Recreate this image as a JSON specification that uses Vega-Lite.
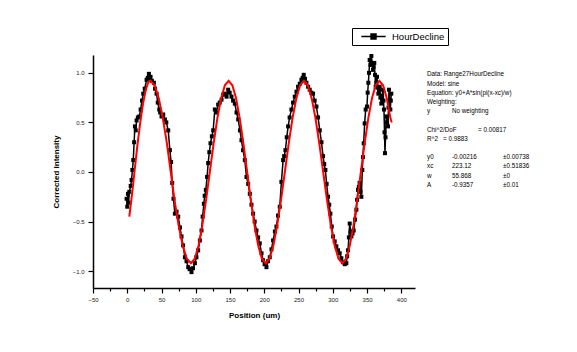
{
  "$schema": "https://vega.github.io/schema/vega-lite/v6.json",
  "width": 322,
  "height": 233,
  "autosize": "none",
  "padding": {"left": 93, "top": 55, "right": 162, "bottom": 64},
  "background": "white",
  "config": {
    "view": {"stroke": null},
    "axis": {
      "grid": false,
      "domainColor": "black",
      "domainWidth": 1.5,
      "tickColor": "black",
      "tickWidth": 1.2,
      "labelFont": "Liberation Sans",
      "labelFontSize": 6,
      "labelColor": "#1a1a1a",
      "titleFont": "Liberation Sans",
      "titleFontSize": 8,
      "titleFontWeight": "bold",
      "titleColor": "black"
    },
    "text": {"font": "Liberation Sans", "fontSize": 6.3, "color": "black"}
  },
  "resolve": {"axis": {"x": "independent"}},
  "datasets": {
    "obs": [
      {"x": -1, "y": -0.27, "series": "HourDecline"},{"x": 0, "y": -0.35, "series": "HourDecline"},{"x": 1, "y": -0.22, "series": "HourDecline"},{"x": 2, "y": -0.31, "series": "HourDecline"},{"x": 3, "y": -0.2, "series": "HourDecline"},{"x": 5, "y": -0.14, "series": "HourDecline"},{"x": 6.3, "y": -0.08, "series": "HourDecline"},{"x": 7.5, "y": 0.02, "series": "HourDecline"},{"x": 8.8, "y": 0.12, "series": "HourDecline"},{"x": 10, "y": 0.3, "series": "HourDecline"},{"x": 11.2, "y": 0.46, "series": "HourDecline"},{"x": 12.4, "y": 0.42, "series": "HourDecline"},{"x": 13.6, "y": 0.52, "series": "HourDecline"},{"x": 15.5, "y": 0.55, "series": "HourDecline"},{"x": 17.5, "y": 0.56, "series": "HourDecline"},{"x": 19.5, "y": 0.63, "series": "HourDecline"},{"x": 21.5, "y": 0.72, "series": "HourDecline"},{"x": 23.3, "y": 0.79, "series": "HourDecline"},{"x": 25.5, "y": 0.84, "series": "HourDecline"},{"x": 28.2, "y": 0.93, "series": "HourDecline"},{"x": 30, "y": 0.95, "series": "HourDecline"},{"x": 31.6, "y": 0.99, "series": "HourDecline"},{"x": 33, "y": 0.94, "series": "HourDecline"},{"x": 34, "y": 0.96, "series": "HourDecline"},{"x": 36, "y": 0.92, "series": "HourDecline"},{"x": 38.9, "y": 0.9, "series": "HourDecline"},{"x": 40.5, "y": 0.84, "series": "HourDecline"},{"x": 42.8, "y": 0.79, "series": "HourDecline"},{"x": 44.5, "y": 0.7, "series": "HourDecline"},{"x": 46.7, "y": 0.63, "series": "HourDecline"},{"x": 48, "y": 0.6, "series": "HourDecline"},{"x": 50, "y": 0.56, "series": "HourDecline"},{"x": 52.5, "y": 0.58, "series": "HourDecline"},{"x": 54.9, "y": 0.53, "series": "HourDecline"},{"x": 57, "y": 0.5, "series": "HourDecline"},{"x": 59.8, "y": 0.42, "series": "HourDecline"},{"x": 62.2, "y": 0.22, "series": "HourDecline"},{"x": 64, "y": 0.1, "series": "HourDecline"},{"x": 65.6, "y": -0.11, "series": "HourDecline"},{"x": 67.5, "y": -0.27, "series": "HourDecline"},{"x": 69.5, "y": -0.42, "series": "HourDecline"},{"x": 72, "y": -0.4, "series": "HourDecline"},{"x": 74.4, "y": -0.45, "series": "HourDecline"},{"x": 77, "y": -0.56, "series": "HourDecline"},{"x": 79.2, "y": -0.65, "series": "HourDecline"},{"x": 81.5, "y": -0.74, "series": "HourDecline"},{"x": 84.1, "y": -0.86, "series": "HourDecline"},{"x": 86.5, "y": -0.9, "series": "HourDecline"},{"x": 89, "y": -0.96, "series": "HourDecline"},{"x": 91, "y": -0.98, "series": "HourDecline"},{"x": 93.8, "y": -1.01, "series": "HourDecline"},{"x": 96, "y": -0.97, "series": "HourDecline"},{"x": 98.7, "y": -0.92, "series": "HourDecline"},{"x": 101, "y": -0.86, "series": "HourDecline"},{"x": 103.5, "y": -0.79, "series": "HourDecline"},{"x": 106, "y": -0.69, "series": "HourDecline"},{"x": 108.4, "y": -0.59, "series": "HourDecline"},{"x": 110, "y": -0.45, "series": "HourDecline"},{"x": 111.8, "y": -0.32, "series": "HourDecline"},{"x": 113, "y": -0.24, "series": "HourDecline"},{"x": 114.7, "y": -0.18, "series": "HourDecline"},{"x": 116.5, "y": -0.05, "series": "HourDecline"},{"x": 118.1, "y": 0.09, "series": "HourDecline"},{"x": 119.8, "y": 0.2, "series": "HourDecline"},{"x": 121.5, "y": 0.29, "series": "HourDecline"},{"x": 123.5, "y": 0.36, "series": "HourDecline"},{"x": 125.4, "y": 0.42, "series": "HourDecline"},{"x": 127.8, "y": 0.63, "series": "HourDecline"},{"x": 130, "y": 0.6, "series": "HourDecline"},{"x": 132.7, "y": 0.68, "series": "HourDecline"},{"x": 135, "y": 0.7, "series": "HourDecline"},{"x": 137.6, "y": 0.73, "series": "HourDecline"},{"x": 140, "y": 0.78, "series": "HourDecline"},{"x": 142.4, "y": 0.79, "series": "HourDecline"},{"x": 145, "y": 0.76, "series": "HourDecline"},{"x": 147.3, "y": 0.83, "series": "HourDecline"},{"x": 149.5, "y": 0.8, "series": "HourDecline"},{"x": 152.1, "y": 0.76, "series": "HourDecline"},{"x": 154.5, "y": 0.72, "series": "HourDecline"},{"x": 157, "y": 0.69, "series": "HourDecline"},{"x": 159.5, "y": 0.6, "series": "HourDecline"},{"x": 161.9, "y": 0.53, "series": "HourDecline"},{"x": 164.5, "y": 0.42, "series": "HourDecline"},{"x": 166.7, "y": 0.32, "series": "HourDecline"},{"x": 169, "y": 0.22, "series": "HourDecline"},{"x": 171.6, "y": 0.12, "series": "HourDecline"},{"x": 174, "y": -0.05, "series": "HourDecline"},{"x": 176.5, "y": -0.12, "series": "HourDecline"},{"x": 178.9, "y": -0.22, "series": "HourDecline"},{"x": 181.3, "y": -0.33, "series": "HourDecline"},{"x": 183.7, "y": -0.42, "series": "HourDecline"},{"x": 186, "y": -0.5, "series": "HourDecline"},{"x": 188.6, "y": -0.59, "series": "HourDecline"},{"x": 191, "y": -0.66, "series": "HourDecline"},{"x": 193.4, "y": -0.72, "series": "HourDecline"},{"x": 196, "y": -0.82, "series": "HourDecline"},{"x": 198.3, "y": -0.89, "series": "HourDecline"},{"x": 200.5, "y": -0.93, "series": "HourDecline"},{"x": 203.2, "y": -0.96, "series": "HourDecline"},{"x": 205.5, "y": -0.9, "series": "HourDecline"},{"x": 208, "y": -0.86, "series": "HourDecline"},{"x": 210.5, "y": -0.78, "series": "HourDecline"},{"x": 212.9, "y": -0.69, "series": "HourDecline"},{"x": 215.5, "y": -0.6, "series": "HourDecline"},{"x": 217.7, "y": -0.55, "series": "HourDecline"},{"x": 220, "y": -0.44, "series": "HourDecline"},{"x": 222.6, "y": -0.35, "series": "HourDecline"},{"x": 225, "y": -0.1, "series": "HourDecline"},{"x": 227.5, "y": 0.12, "series": "HourDecline"},{"x": 229, "y": 0.16, "series": "HourDecline"},{"x": 230.9, "y": 0.22, "series": "HourDecline"},{"x": 232.8, "y": 0.35, "series": "HourDecline"},{"x": 234.8, "y": 0.46, "series": "HourDecline"},{"x": 237, "y": 0.55, "series": "HourDecline"},{"x": 239.6, "y": 0.63, "series": "HourDecline"},{"x": 242, "y": 0.7, "series": "HourDecline"},{"x": 244.5, "y": 0.76, "series": "HourDecline"},{"x": 247, "y": 0.81, "series": "HourDecline"},{"x": 249.3, "y": 0.86, "series": "HourDecline"},{"x": 251.8, "y": 0.89, "series": "HourDecline"},{"x": 254.2, "y": 0.93, "series": "HourDecline"},{"x": 256, "y": 0.95, "series": "HourDecline"},{"x": 257.6, "y": 0.98, "series": "HourDecline"},{"x": 259.5, "y": 0.94, "series": "HourDecline"},{"x": 261.5, "y": 0.9, "series": "HourDecline"},{"x": 264, "y": 0.86, "series": "HourDecline"},{"x": 266.3, "y": 0.83, "series": "HourDecline"},{"x": 268.7, "y": 0.8, "series": "HourDecline"},{"x": 271.2, "y": 0.79, "series": "HourDecline"},{"x": 273.5, "y": 0.72, "series": "HourDecline"},{"x": 276.1, "y": 0.66, "series": "HourDecline"},{"x": 278.5, "y": 0.55, "series": "HourDecline"},{"x": 281, "y": 0.42, "series": "HourDecline"},{"x": 283.5, "y": 0.3, "series": "HourDecline"},{"x": 285.8, "y": 0.16, "series": "HourDecline"},{"x": 287.5, "y": 0.08, "series": "HourDecline"},{"x": 289.2, "y": 0.02, "series": "HourDecline"},{"x": 291, "y": -0.12, "series": "HourDecline"},{"x": 293.1, "y": -0.25, "series": "HourDecline"},{"x": 294.8, "y": -0.33, "series": "HourDecline"},{"x": 296.5, "y": -0.42, "series": "HourDecline"},{"x": 298.5, "y": -0.55, "series": "HourDecline"},{"x": 300.4, "y": -0.65, "series": "HourDecline"},{"x": 302.8, "y": -0.7, "series": "HourDecline"},{"x": 305.2, "y": -0.75, "series": "HourDecline"},{"x": 307.7, "y": -0.79, "series": "HourDecline"},{"x": 310.1, "y": -0.82, "series": "HourDecline"},{"x": 312.5, "y": -0.87, "series": "HourDecline"},{"x": 315, "y": -0.91, "series": "HourDecline"},{"x": 317.5, "y": -0.93, "series": "HourDecline"},{"x": 319.8, "y": -0.92, "series": "HourDecline"},{"x": 321, "y": -0.85, "series": "HourDecline"},{"x": 322.2, "y": -0.79, "series": "HourDecline"},{"x": 323.5, "y": -0.66, "series": "HourDecline"},{"x": 324.7, "y": -0.52, "series": "HourDecline"},{"x": 326, "y": -0.6, "series": "HourDecline"},{"x": 327.1, "y": -0.65, "series": "HourDecline"},{"x": 328.8, "y": -0.62, "series": "HourDecline"},{"x": 330.5, "y": -0.59, "series": "HourDecline"},{"x": 332.5, "y": -0.48, "series": "HourDecline"},{"x": 334.4, "y": -0.38, "series": "HourDecline"},{"x": 335.5, "y": -0.28, "series": "HourDecline"},{"x": 336.8, "y": -0.18, "series": "HourDecline"},{"x": 338, "y": -0.15, "series": "HourDecline"},{"x": 339.2, "y": -0.11, "series": "HourDecline"},{"x": 340.5, "y": -0.2, "series": "HourDecline"},{"x": 341.7, "y": -0.25, "series": "HourDecline"},{"x": 343.1, "y": 0.02, "series": "HourDecline"},{"x": 344, "y": 0.15, "series": "HourDecline"},{"x": 345.1, "y": 0.29, "series": "HourDecline"},{"x": 346.5, "y": 0.49, "series": "HourDecline"},{"x": 348, "y": 0.63, "series": "HourDecline"},{"x": 349.9, "y": 0.66, "series": "HourDecline"},{"x": 350.9, "y": 0.8, "series": "HourDecline"},{"x": 351.9, "y": 0.9, "series": "HourDecline"},{"x": 352.9, "y": 1.0, "series": "HourDecline"},{"x": 353.8, "y": 1.13, "series": "HourDecline"},{"x": 355, "y": 1.08, "series": "HourDecline"},{"x": 356.3, "y": 1.17, "series": "HourDecline"},{"x": 357.5, "y": 1.1, "series": "HourDecline"},{"x": 358.7, "y": 1.03, "series": "HourDecline"},{"x": 359.6, "y": 1.06, "series": "HourDecline"},{"x": 360.6, "y": 1.1, "series": "HourDecline"},{"x": 361.6, "y": 0.98, "series": "HourDecline"},{"x": 362.6, "y": 0.86, "series": "HourDecline"},{"x": 363.5, "y": 0.9, "series": "HourDecline"},{"x": 364.5, "y": 0.96, "series": "HourDecline"},{"x": 365.5, "y": 0.85, "series": "HourDecline"},{"x": 366.5, "y": 0.79, "series": "HourDecline"},{"x": 367.5, "y": 0.82, "series": "HourDecline"},{"x": 368.4, "y": 0.86, "series": "HourDecline"},{"x": 369.5, "y": 0.75, "series": "HourDecline"},{"x": 370.8, "y": 0.69, "series": "HourDecline"},{"x": 372, "y": 0.77, "series": "HourDecline"},{"x": 373.3, "y": 0.83, "series": "HourDecline"},{"x": 374, "y": 0.72, "series": "HourDecline"},{"x": 374.7, "y": 0.63, "series": "HourDecline"},{"x": 375.5, "y": 0.4, "series": "HourDecline"},{"x": 376.2, "y": 0.19, "series": "HourDecline"},{"x": 377, "y": 0.35, "series": "HourDecline"},{"x": 378.1, "y": 0.56, "series": "HourDecline"},{"x": 379.3, "y": 0.5, "series": "HourDecline"},{"x": 380.6, "y": 0.46, "series": "HourDecline"},{"x": 381.3, "y": 0.65, "series": "HourDecline"},{"x": 382, "y": 0.83, "series": "HourDecline"},{"x": 383, "y": 0.72, "series": "HourDecline"},{"x": 384, "y": 0.63, "series": "HourDecline"},{"x": 384.7, "y": 0.72, "series": "HourDecline"},{"x": 385.4, "y": 0.79, "series": "HourDecline"}
    ],
    "fit": [
      {"x": 3, "y": -0.45},{"x": 7, "y": -0.22},{"x": 10.5, "y": 0.0},{"x": 15, "y": 0.28},{"x": 19, "y": 0.5},{"x": 23, "y": 0.69},{"x": 27, "y": 0.83},{"x": 31, "y": 0.91},{"x": 34, "y": 0.92},
      {"x": 40, "y": 0.875},{"x": 46, "y": 0.744},{"x": 52, "y": 0.541},{"x": 58, "y": 0.284},{"x": 63.5, "y": 0},{"x": 69, "y": -0.284},{"x": 75, "y": -0.541},{"x": 81, "y": -0.744},{"x": 87, "y": -0.875},{"x": 93, "y": -0.92},
      {"x": 98.5, "y": -0.875},{"x": 104, "y": -0.744},{"x": 109.5, "y": -0.541},{"x": 115, "y": -0.284},{"x": 120.5, "y": 0},{"x": 126, "y": 0.284},{"x": 131.5, "y": 0.541},{"x": 137, "y": 0.744},{"x": 142.5, "y": 0.875},{"x": 148, "y": 0.92},
      {"x": 153.4, "y": 0.875},{"x": 158.8, "y": 0.744},{"x": 164.2, "y": 0.541},{"x": 169.6, "y": 0.284},{"x": 175, "y": 0},{"x": 180.4, "y": -0.284},{"x": 185.8, "y": -0.541},{"x": 191.2, "y": -0.744},{"x": 196.6, "y": -0.875},{"x": 202, "y": -0.92},
      {"x": 207.6, "y": -0.875},{"x": 213.2, "y": -0.744},{"x": 218.8, "y": -0.541},{"x": 224.4, "y": -0.284},{"x": 230, "y": 0},{"x": 235.6, "y": 0.284},{"x": 241.2, "y": 0.541},{"x": 246.8, "y": 0.744},{"x": 252.4, "y": 0.875},{"x": 258, "y": 0.92},
      {"x": 263.6, "y": 0.875},{"x": 269.2, "y": 0.744},{"x": 274.8, "y": 0.541},{"x": 280.4, "y": 0.284},{"x": 286, "y": 0},{"x": 291.6, "y": -0.284},{"x": 297.2, "y": -0.541},{"x": 302.8, "y": -0.744},{"x": 308.4, "y": -0.875},{"x": 314, "y": -0.92},
      {"x": 319.4, "y": -0.875},{"x": 324.8, "y": -0.744},{"x": 330.2, "y": -0.541},{"x": 335.6, "y": -0.284},{"x": 341, "y": 0},{"x": 346.4, "y": 0.284},{"x": 351.8, "y": 0.541},{"x": 357.2, "y": 0.744},{"x": 362.6, "y": 0.875},{"x": 368, "y": 0.92},
      {"x": 373.4, "y": 0.875},{"x": 378.8, "y": 0.744},{"x": 384.2, "y": 0.541},{"x": 386, "y": 0.5}
    ]
  },
  "layer": [
    {
      "data": {"name": "obs"},
      "mark": {"type": "line", "strokeWidth": 1.5, "point": {"filled": true, "shape": "square", "size": 16, "color": "black"}},
      "encoding": {
        "x": {"field": "x", "type": "quantitative", "scale": {"domain": [-50, 420], "nice": false, "zero": false},
          "axis": {"title": "Position (um)", "orient": "bottom", "values": [-50,0,50,100,150,200,250,300,350,400],
            "format": "d", "labelOverlap": false, "labelFlush": false, "tickSize": 5,
            "labelPadding": 3, "titlePadding": 9}},
        "y": {"field": "y", "type": "quantitative", "scale": {"domain": [-1.17, 1.18], "nice": false, "zero": false},
          "axis": {"title": "Corrected Intensity", "values": [-1,-0.75,-0.5,-0.25,0,0.25,0.5,0.75,1],
            "labelExpr": "abs(datum.value*2 - round(datum.value*2)) < 0.001 ? format(datum.value, '.1f') : ''", "labelOverlap": false,
            "tickSize": {"condition": {"test": "abs(datum.value*2 - round(datum.value*2)) > 0.001", "value": 3}, "value": 5},
            "labelPadding": 4, "titlePadding": 12}},
        "color": {"field": "series", "type": "nominal", "scale": {"range": ["black"]},
          "legend": {"title": null, "orient": "none", "legendX": 259, "legendY": -27,
            "strokeColor": "black", "padding": 3, "fillColor": "white",
            "symbolType": "M -2.7 0 L 2.7 0 M -0.55 -0.55 L 0.55 -0.55 L 0.55 0.55 L -0.55 0.55 Z",
            "symbolSize": 81, "symbolStrokeWidth": 1.5, "symbolFillColor": "black", "symbolStrokeColor": "black",
            "symbolOffset": 13,
            "labelFont": "Liberation Sans", "labelFontSize": 9.5, "labelColor": "black", "labelOffset": 13}}
      }
    },
    {
      "data": {"name": "fit"},
      "mark": {"type": "line", "color": "#ff0000", "strokeWidth": 2},
      "encoding": {
        "x": {"field": "x", "type": "quantitative",
          "axis": {"title": null, "orient": "bottom", "values": [-25,25,75,125,175,225,275,325,375],
            "labels": false, "domain": false, "tickSize": 3}},
        "y": {"field": "y", "type": "quantitative"}
      }
    },
    {
      "data": {"values": [{}]},
      "mark": {"type": "text", "align": "left", "baseline": "top", "lineHeight": 9.2,
        "text": ["Data: Range27HourDecline", "Model: sine", "Equation: y0+A*sin(pi(x-xc)/w)", "Weighting:", "y"]},
      "encoding": {"x": {"datum": 437.5, "axis": null}, "y": {"datum": 1.0136}}
    },
    {
      "data": {"values": [{}]},
      "mark": {"type": "text", "align": "left", "baseline": "top", "text": "No weighting"},
      "encoding": {"x": {"datum": 474, "axis": null}, "y": {"datum": 0.6424}}
    },
    {
      "data": {"values": [{}]},
      "mark": {"type": "text", "align": "left", "baseline": "top", "lineHeight": 9.2, "text": ["Chi^2/DoF", "R^2"]},
      "encoding": {"x": {"datum": 437.5, "axis": null}, "y": {"datum": 0.4569}}
    },
    {
      "data": {"values": [{}]},
      "mark": {"type": "text", "align": "left", "baseline": "top", "text": "= 0.00817"},
      "encoding": {"x": {"datum": 512, "axis": null}, "y": {"datum": 0.4569}}
    },
    {
      "data": {"values": [{}]},
      "mark": {"type": "text", "align": "left", "baseline": "top", "text": "= 0.9883"},
      "encoding": {"x": {"datum": 461, "axis": null}, "y": {"datum": 0.3641}}
    },
    {
      "data": {"values": [{}]},
      "mark": {"type": "text", "align": "left", "baseline": "top", "lineHeight": 9.2, "text": ["y0", "xc", "w", "A"]},
      "encoding": {"x": {"datum": 437.5, "axis": null}, "y": {"datum": 0.1785}}
    },
    {
      "data": {"values": [{}]},
      "mark": {"type": "text", "align": "left", "baseline": "top", "lineHeight": 9.2, "text": ["-0.00216", "223.12", "55.868", "-0.9357"]},
      "encoding": {"x": {"datum": 474, "axis": null}, "y": {"datum": 0.1785}}
    },
    {
      "data": {"values": [{}]},
      "mark": {"type": "text", "align": "left", "baseline": "top", "lineHeight": 9.2, "text": ["±0.00738", "±0.51836", "±0", "±0.01"]},
      "encoding": {"x": {"datum": 548.4, "axis": null}, "y": {"datum": 0.1785}}
    }
  ]
}
